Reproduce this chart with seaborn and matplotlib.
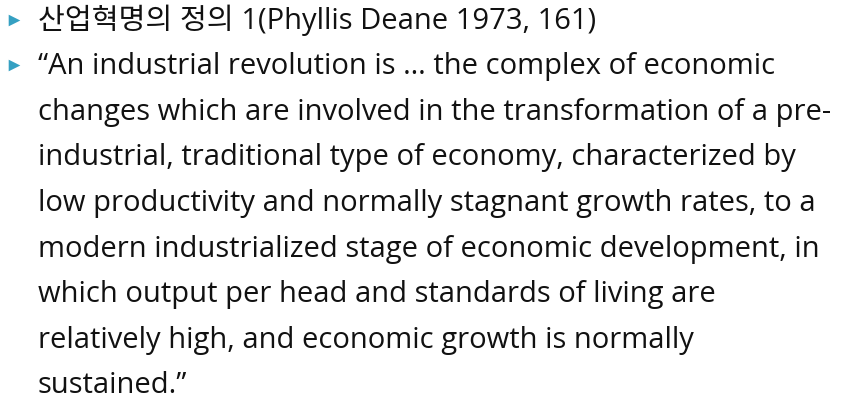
import numpy as np
import matplotlib
matplotlib.use("Agg")
import matplotlib.pyplot as plt
import seaborn as sns

# Slide text, one entry per printed line
lines = [
    "산업혁명의 정의 1(Phyllis Deane 1973, 161)",
    "\u201cAn industrial revolution is \u2026 the complex of economic",
    "changes which are involved in the transformation of a pre-",
    "industrial, traditional type of economy, characterized by",
    "low productivity and normally stagnant growth rates, to a",
    "modern industrialized stage of economic development, in",
    "which output per head and standards of living are",
    "relatively high, and economic growth is normally",
    "sustained.\u201d",
]
# which lines start a new bullet
bulleted = [True, True, False, False, False, False, False, False, False]

sns.set_style("white")
plt.rcParams['font.family'] = ['Open Sans', 'Noto Sans CJK KR', 'DejaVu Sans']

fig = plt.figure(figsize=(8.41, 4.08), dpi=100)
ax = fig.add_axes([0, 0, 1, 1])
ax.set_xlim(0, 841)
ax.set_ylim(408, 0)
ax.axis("off")

first_baseline = 28.5
line_step = 45.6
text_x = 38
bullet_x = 14

rows = np.arange(len(lines))
baselines = first_baseline + rows * line_step

for y, txt in zip(baselines, lines):
    ax.text(text_x, y, txt, fontsize=21, color="#111111", va="baseline", ha="left")

bx = [bullet_x for b in bulleted if b]
by = [y - 9 for y, b in zip(baselines, bulleted) if b]
ax.scatter(bx, by, marker=">", s=70, color="#35a0c2", linewidths=0)

fig.savefig("out.png", dpi=100)
